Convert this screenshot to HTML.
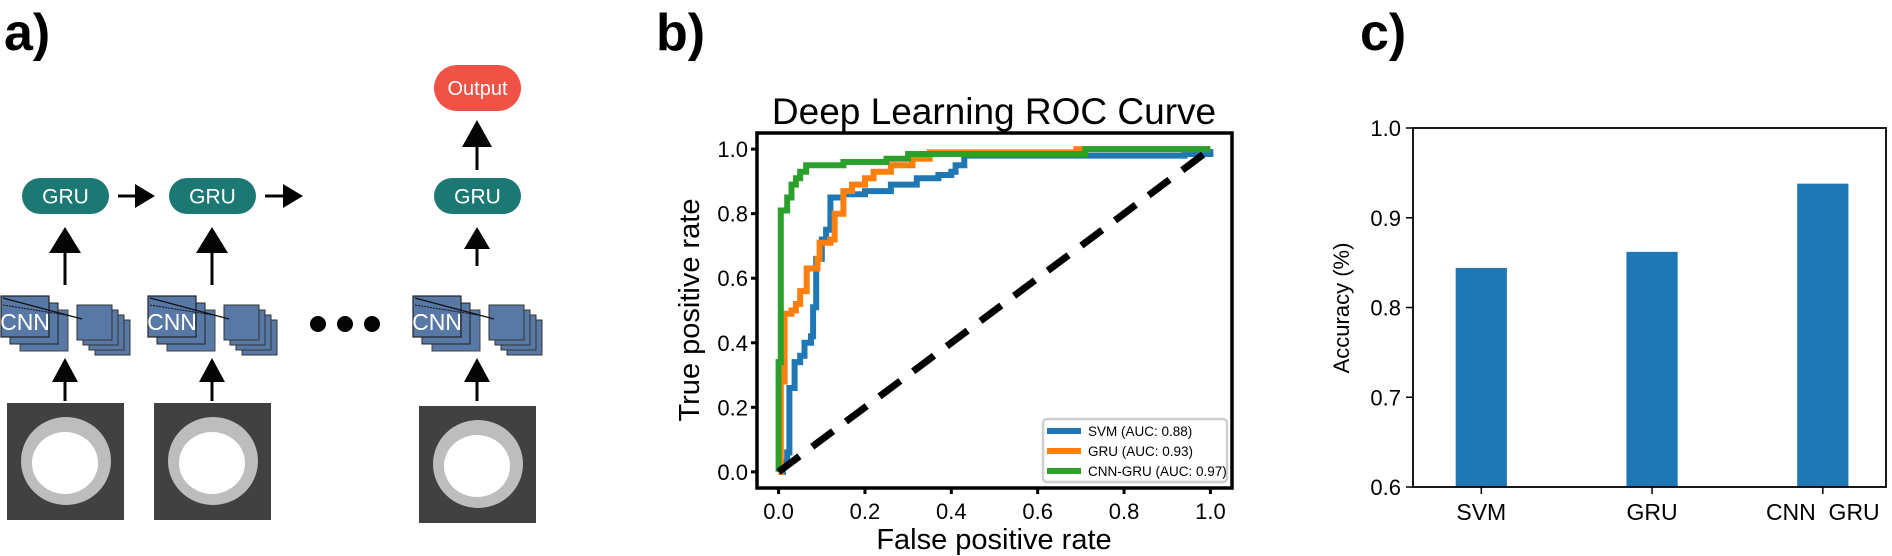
<!DOCTYPE html>
<html><head><meta charset="utf-8"><style>
html,body{margin:0;padding:0;background:#fff;}
svg{display:block;font-family:"Liberation Sans",sans-serif;}
</style></head><body>
<svg id="fig" width="1892" height="556" viewBox="0 0 1892 556">
<text x="4" y="50" font-size="52" font-weight="bold">a)</text>
<text x="656" y="50" font-size="52" font-weight="bold">b)</text>
<text x="1360" y="50" font-size="52" font-weight="bold">c)</text>

<g id="panelA"></g>

<g id="panelB">
<text x="994" y="124" font-size="37" text-anchor="middle">Deep Learning ROC Curve</text>
<text x="994" y="549" font-size="29" text-anchor="middle">False positive rate</text>
<text transform="translate(699,310) rotate(-90)" font-size="29" text-anchor="middle">True positive rate</text>
</g>

<g id="panelC">
<text transform="translate(1349,308) rotate(-90)" font-size="22" text-anchor="middle">Accuracy (%)</text>
</g>
</svg>
<script>
var NS="http://www.w3.org/2000/svg";
function mk(parent,tag,attrs,txt){var e=document.createElementNS(NS,tag);for(var k in attrs)e.setAttribute(k,attrs[k]);if(txt!==undefined)e.textContent=txt;parent.appendChild(e);return e;}

var rocSeries=["SVM (AUC: 0.88)","GRU (AUC: 0.93)","CNN-GRU (AUC: 0.97)"];
var svmFpr=[0,0.01,0.01,0.02,0.025,0.025,0.037,0.05,0.06,0.075,0.08,0.087,0.1,0.11,0.12,0.15,0.2,0.26,0.32,0.37,0.40,0.41,0.43,0.94,1.0];
var svmTpr=[0,0,0.03,0.06,0.06,0.26,0.34,0.36,0.40,0.42,0.51,0.66,0.72,0.75,0.85,0.86,0.87,0.89,0.91,0.92,0.93,0.95,0.98,0.985,1.0];
var gruFpr=[0,0.005,0.014,0.03,0.04,0.05,0.065,0.08,0.09,0.095,0.12,0.13,0.15,0.17,0.2,0.22,0.26,0.31,0.35,0.69,1.0];
var gruTpr=[0,0.28,0.49,0.50,0.52,0.56,0.63,0.63,0.66,0.71,0.72,0.80,0.87,0.89,0.91,0.93,0.95,0.97,0.99,1.0,1.0];
var cnnFpr=[0,0,0.005,0.02,0.03,0.04,0.05,0.064,0.15,0.25,0.30,0.71,1.0];
var cnnTpr=[0,0.34,0.81,0.85,0.89,0.91,0.93,0.95,0.96,0.97,0.985,1.0,1.0];
var rocColors=["#1f77b4","#ff7f0e","#2ca02c"];
var rocTicks=[0,0.2,0.4,0.6,0.8,1.0];
var rocTickLabels=["0.0","0.2","0.4","0.6","0.8","1.0"];

var accCategories=["SVM","GRU","CNN\u00a0\u00a0GRU"];
var accValues=[0.844,0.862,0.938];
var accTicks=[0.6,0.7,0.8,0.9,1.0];
var accTickLabels=["0.6","0.7","0.8","0.9","1.0"];

(function(){
var g=document.getElementById('panelB');
var L=757,R=1232,T=133,B=488;
function sx(v){return L+(v+0.05)/1.1*(R-L);}
function sy(v){return B-(v+0.05)/1.1*(B-T);}
var clip=mk(g,'clipPath',{id:'rocclip'});mk(clip,'rect',{x:L,y:T,width:R-L,height:B-T});
var data=[[svmFpr,svmTpr],[gruFpr,gruTpr],[cnnFpr,cnnTpr]];
for(var s=0;s<3;s++){
  var pts=[];var f=data[s][0],t=data[s][1];
  for(var i=0;i<f.length;i++){
    if(i>0)pts.push(sx(f[i]).toFixed(1)+","+sy(t[i-1]).toFixed(1));
    pts.push(sx(f[i]).toFixed(1)+","+sy(t[i]).toFixed(1));
  }
  var pl=mk(g,'polyline',{points:pts.join(' '),fill:'none',stroke:rocColors[s],'stroke-width':6,'stroke-linejoin':'miter','clip-path':'url(#rocclip)'});
  
  
}
var d=mk(g,'line',{x1:sx(0),y1:sy(0),x2:sx(1),y2:sy(1),stroke:'#000','stroke-width':7,'stroke-dasharray':'26,16'});


var fr=mk(g,'rect',{x:L,y:T,width:R-L,height:B-T,fill:'none',stroke:'#000','stroke-width':3.5});


for(var i=0;i<rocTicks.length;i++){
  var x=sx(rocTicks[i]);
  mk(g,'line',{x1:x,y1:B,x2:x,y2:B+6,stroke:'#000','stroke-width':3});
  var tx=mk(g,'text',{x:x,y:519,'font-size':22,'text-anchor':'middle'},rocTickLabels[i]);
  
  
  var y=sy(rocTicks[i]);
  mk(g,'line',{x1:L-6,y1:y,x2:L,y2:y,stroke:'#000','stroke-width':3});
  var ty=mk(g,'text',{x:L-9,y:y+8,'font-size':22,'text-anchor':'end'},rocTickLabels[i]);
  
  
}
var lg=mk(g,'g',{});


mk(lg,'rect',{x:1043,y:419,width:184,height:63,rx:4,fill:'#fff',stroke:'#cfcfcf','stroke-width':2.5});
for(var s=0;s<3;s++){
  var yy=431+s*20;
  mk(lg,'line',{x1:1047,y1:yy,x2:1081,y2:yy,stroke:rocColors[s],'stroke-width':6});
  var lt=mk(lg,'text',{x:1088,y:yy+5,'font-size':13.5},rocSeries[s]);
  
  
}
})();

(function(){
var g=document.getElementById('panelC');
var L=1413,R=1886,T=128,B=487;
var xmin=-0.4,xmax=2.37;
function sx(v){return L+(v-xmin)/(xmax-xmin)*(R-L);}
function sy(v){return B-(v-0.6)/0.4*(B-T);}
var bw=0.3;
for(var i=0;i<accValues.length;i++){
  var r=mk(g,'rect',{x:sx(i-bw/2),y:sy(accValues[i]),width:sx(i+bw/2)-sx(i-bw/2),height:B-sy(accValues[i]),fill:'#1f77b4'});
  
  
  mk(g,'line',{x1:sx(i),y1:B,x2:sx(i),y2:B+7,stroke:'#000','stroke-width':1.5});
  var t=mk(g,'text',{x:sx(i),y:520,'font-size':23,'text-anchor':'middle'},accCategories[i]);
  
  
}
for(var i=0;i<accTicks.length;i++){
  var y=sy(accTicks[i]);
  mk(g,'line',{x1:L-7,y1:y,x2:L,y2:y,stroke:'#000','stroke-width':1.5});
  var t=mk(g,'text',{x:L-12,y:y+8,'font-size':22,'text-anchor':'end'},accTickLabels[i]);
  
  
}
var fr=mk(g,'rect',{x:L,y:T,width:R-L,height:B-T,fill:'none',stroke:'#000','stroke-width':1.8});


})();

(function(){
var g=document.getElementById('panelA');
function upArrow(x,tip,base,bottom,hw){
  mk(g,'line',{x1:x,y1:base-1,x2:x,y2:bottom,stroke:'#050505','stroke-width':3});
  mk(g,'polygon',{points:(x-hw)+","+base+" "+(x+hw)+","+base+" "+x+","+tip,fill:'#050505'});
}
function rightArrow(x1,x2,y){
  mk(g,'line',{x1:x1,y1:y,x2:x2-18,y2:y,stroke:'#050505','stroke-width':3});
  mk(g,'polygon',{points:(x2-20)+","+(y-12)+" "+(x2-20)+","+(y+12)+" "+x2+","+y,fill:'#050505'});
}
function pill(x,y,w,h,col,label,name,fs){
  var r=mk(g,'rect',{x:x,y:y,width:w,height:h,rx:h/2,fill:col});
  
  
  mk(g,'text',{x:x+w/2,y:y+h/2+fs*0.36,'font-size':fs,'text-anchor':'middle',fill:'#fff'},label);
}
function cnn(ox){
  var c='#5878a5';
  mk(g,'rect',{x:ox+20,y:310,width:48,height:41,fill:c,stroke:'#444','stroke-width':1});
  mk(g,'rect',{x:ox+10,y:303,width:48,height:41,fill:c,stroke:'#222','stroke-width':1});
  mk(g,'rect',{x:ox+1,y:296,width:48,height:41,fill:c,stroke:'#222','stroke-width':1.2});
  for(var k=3;k>=0;k--){
    mk(g,'rect',{x:ox+77+k*6,y:305+k*5,width:35,height:35,fill:c,stroke:'#333','stroke-width':1});
  }
  mk(g,'line',{x1:ox+3,y1:298,x2:ox+82,y2:319,stroke:'#111','stroke-width':1.2});
  mk(g,'line',{x1:ox+3,y1:305,x2:ox+66,y2:315,stroke:'#111','stroke-width':1,'stroke-dasharray':'2,1'});
  var t=mk(g,'text',{x:ox+25,y:330,'font-size':23,'text-anchor':'middle',fill:'#fff'},'CNN');
  
  
}
function img(x,y){
  mk(g,'rect',{x:x,y:y,width:117,height:117,fill:'#414141'});
  mk(g,'ellipse',{cx:x+59,cy:y+58,rx:45,ry:44,fill:'#bdbdbd'});
  mk(g,'ellipse',{cx:x+58,cy:y+60,rx:33,ry:31,fill:'#fff'});
}
var offs=[0,147,412];
for(var i=0;i<3;i++){
  var o=offs[i];
  img(o+7,i==2?406:403);
  upArrow(o+65,358,382,401,13);
  cnn(o);
  upArrow(o+65,227,i==2?249:253,i==2?266:285,i==2?13:16);
  pill(o+22,178,87,36,'#1b7872','GRU','gru-block',21);
}
rightArrow(118,155,196);
rightArrow(265,303,196);
upArrow(477,120,147,170,15);
pill(434,65,87,46,'#f05246','Output','output-block',20);
for(var k=0;k<3;k++){
  var dt=mk(g,'circle',{cx:318+k*27,cy:324,r:8,fill:'#050505'});
  
  
}
})();
</script>
</body></html>
